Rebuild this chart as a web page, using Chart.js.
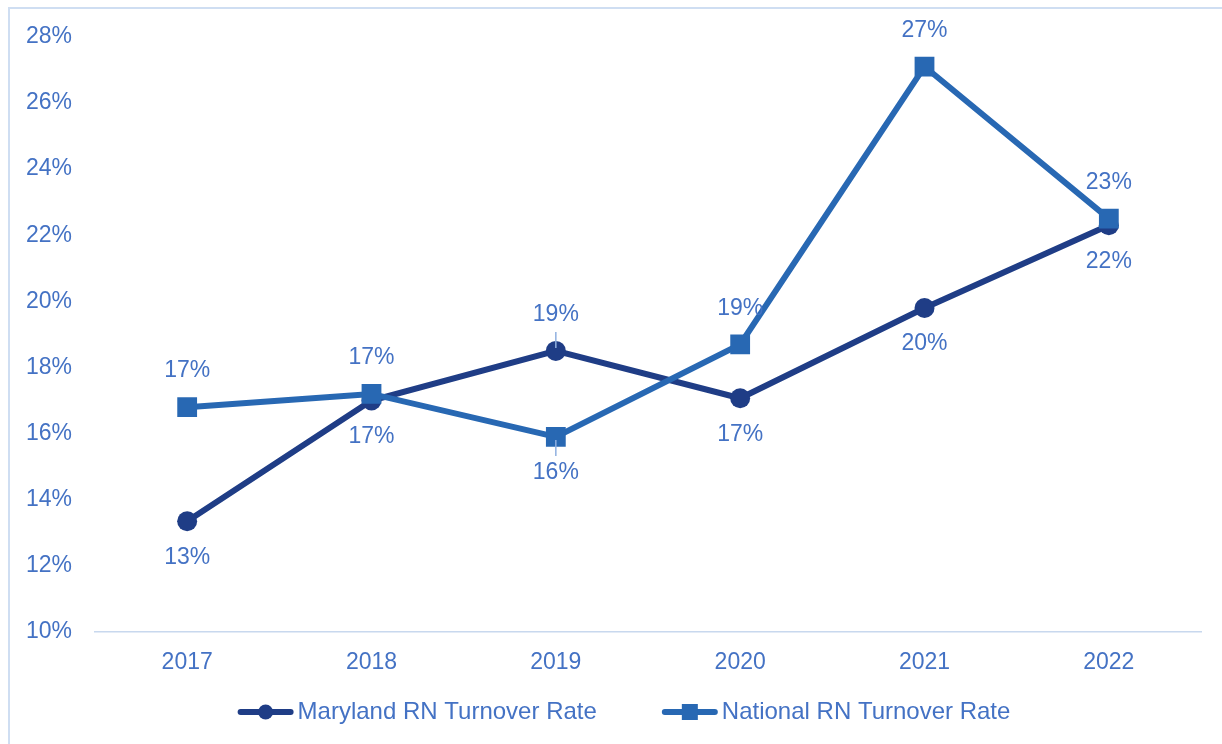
<!DOCTYPE html>
<html lang="en">
<head>
<meta charset="UTF-8" />
<title>RN Turnover Rate</title>
<style>
  html, body {
    margin: 0;
    padding: 0;
    background: #fff;
    overflow: hidden;
  }
  #frame {
    position: absolute;
    left: 8px;
    top: 7px;
    width: 1260px;
    height: 780px;
    border: 2px solid #cfdef2;
    box-sizing: border-box;
  }
  #chart-container {
    position: absolute;
    left: 0;
    top: 0;
    width: 1222px;
    height: 744px;
  }
</style>
<script src="https://cdn.jsdelivr.net/npm/chart.js"></script>
</head>
<body>
<div id="frame"></div>
<div id="chart-container">
  <canvas id="turnoverChart" width="1222" height="744"></canvas>
</div>

<script>
  const years = ["2017", "2018", "2019", "2020", "2021", "2022"];
  const marylandRates = [13.35, 17.0, 18.5, 17.07, 19.8, 22.3];
  const nationalRates = [16.8, 17.2, 15.9, 18.7, 27.1, 22.5];
  const yTicks = [10, 12, 14, 16, 18, 20, 22, 24, 26, 28];

  // where each value label sits relative to its point
  const marylandLabelSide = ["below", "below", "above", "below", "below", "below"];
  const nationalLabelSide = ["above", "above", "below", "above", "above", "above"];
  const marylandLeaders = [false, false, true, false, false, false];
  const nationalLeaders = [false, false, true, false, false, false];

  const FONT = "'Liberation Sans', Arial, sans-serif";
  const TEXT = "#4472c4";
  const NAVY = "#1f3d86";
  const BLUE = "#2868b3";

  // value labels above / below the points, with short leader lines
  const pointLabels = {
    id: "pointLabels",
    afterDatasetsDraw(chart) {
      const ctx = chart.ctx;
      ctx.save();
      ctx.font = "23px " + FONT;
      ctx.textAlign = "center";
      ctx.textBaseline = "middle";
      chart.data.datasets.forEach((ds, di) => {
        const meta = chart.getDatasetMeta(di);
        meta.data.forEach((pt, i) => {
          const dir = ds.labelSide[i] === "above" ? -1 : 1;
          const ly = pt.y + dir * 36;
          if (ds.leaders[i]) {
            ctx.strokeStyle = "#8fb0e0";
            ctx.lineWidth = 1.5;
            ctx.beginPath();
            ctx.moveTo(pt.x, pt.y + dir * 3);
            ctx.lineTo(pt.x, ly - dir * 17);
            ctx.stroke();
          }
          ctx.fillStyle = TEXT;
          ctx.fillText(Math.round(ds.data[i]) + "%", pt.x, ly);
        });
      });
      ctx.restore();
    }
  };

  // legend: line with marker, then the series name
  const lineLegend = {
    id: "lineLegend",
    afterDraw(chart) {
      const ctx = chart.ctx;
      const iconW = 56, gap = 4, itemGap = 65, cy = 712;
      ctx.save();
      ctx.font = "24px " + FONT;
      ctx.textBaseline = "middle";
      ctx.textAlign = "left";
      const items = chart.data.datasets.map(ds => ({
        ds: ds,
        w: ctx.measureText(ds.label).width
      }));
      let total = 0;
      items.forEach((it, i) => {
        total += iconW + gap + it.w + (i ? itemGap : 0);
      });
      let x = 624 - total / 2;
      items.forEach(it => {
        const c = it.ds.borderColor;
        ctx.strokeStyle = c;
        ctx.fillStyle = c;
        ctx.lineWidth = 6;
        ctx.lineCap = "round";
        ctx.beginPath();
        ctx.moveTo(x + 3, cy);
        ctx.lineTo(x + iconW - 3, cy);
        ctx.stroke();
        const mx = x + iconW / 2;
        if (it.ds.pointStyle === "circle") {
          ctx.beginPath();
          ctx.arc(mx, cy, 7.5, 0, Math.PI * 2);
          ctx.fill();
        } else {
          ctx.fillRect(mx - 8, cy - 8, 16, 16);
        }
        ctx.fillStyle = TEXT;
        ctx.fillText(it.ds.label, x + iconW + gap, cy);
        x += iconW + gap + it.w + itemGap;
      });
      ctx.restore();
    }
  };

  const ctx = document.getElementById("turnoverChart").getContext("2d");
  new Chart(ctx, {
    type: "line",
    data: {
      labels: years,
      datasets: [
        {
          label: "Maryland RN Turnover Rate",
          data: marylandRates,
          borderColor: NAVY,
          backgroundColor: NAVY,
          borderWidth: 6,
          pointStyle: "circle",
          pointRadius: 10,
          pointBorderWidth: 0,
          tension: 0,
          order: 2,
          labelSide: marylandLabelSide,
          leaders: marylandLeaders
        },
        {
          label: "National RN Turnover Rate",
          data: nationalRates,
          borderColor: BLUE,
          backgroundColor: BLUE,
          borderWidth: 6,
          pointStyle: "rect",
          pointRadius: 14,
          pointBorderWidth: 0,
          tension: 0,
          order: 1,
          labelSide: nationalLabelSide,
          leaders: nationalLeaders
        }
      ]
    },
    options: {
      responsive: false,
      animation: false,
      devicePixelRatio: 1,
      layout: {
        padding: { left: 0, right: 21, top: 36, bottom: 62 }
      },
      scales: {
        x: {
          offset: true,
          grid: { display: false, drawTicks: false },
          border: { display: true, color: "#c8d8ee", width: 1.5 },
          ticks: {
            color: TEXT,
            font: { family: FONT, size: 23 },
            padding: 17
          },
          afterFit: s => { s.height = 50; }
        },
        y: {
          min: 10,
          max: 28,
          afterBuildTicks: s => { s.ticks = yTicks.map(v => ({ value: v })); },
          grid: { display: false, drawTicks: false },
          border: { display: false },
          ticks: {
            color: TEXT,
            font: { family: FONT, size: 23 },
            padding: 23,
            callback: v => v + "%"
          },
          afterFit: s => { s.width = 95; }
        }
      },
      plugins: {
        legend: { display: false },
        tooltip: { enabled: false }
      }
    },
    plugins: [pointLabels, lineLegend]
  });
</script>
</body>
</html>
